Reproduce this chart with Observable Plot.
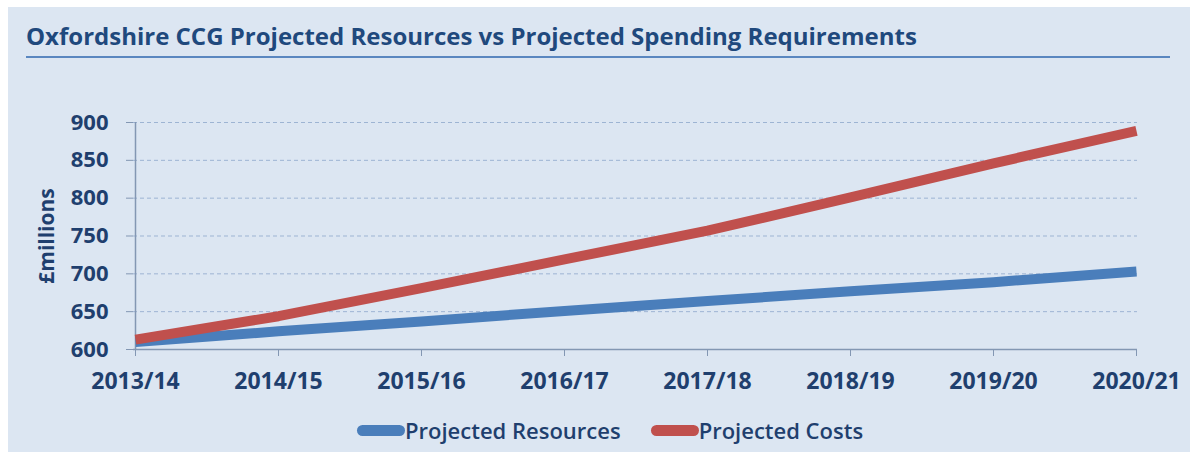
<!DOCTYPE html>
<html>
<head>
<meta charset="utf-8">
<script src="https://cdn.jsdelivr.net/npm/d3@7"></script>
<script src="https://cdn.jsdelivr.net/npm/@observablehq/plot@0.6"></script>
<style>
  html, body { margin: 0; padding: 0; background: #ffffff; }
  #panel {
    position: absolute; left: 8px; top: 7px; width: 1182px; height: 445px;
    background: #dce6f2; font-family: "Open Sans", sans-serif; color: #1f3f6e;
  }
  #title {
    position: absolute; left: 18px; top: 13px; font-size: 24px; font-weight: 700;
    color: #1f497d; white-space: nowrap; line-height: 32px;
  }
  #rule {
    position: absolute; left: 18px; top: 49px; width: 1144px; height: 2px; background: #5a87c0;
  }
  #chart { position: absolute; left: -8px; top: 93px; width: 1198px; }
  #chart svg { max-width: none !important; }
  #chart svg text { font-family: "Open Sans", sans-serif; font-weight: 700; fill: #1f3f6e; }
  #chart svg g[aria-label="x-axis tick label"] text { font-size: 23px; }
  #chart svg g[aria-label="y-axis tick label"] text { font-size: 22px; }
  #chart svg g[aria-label="text"] text { font-size: 21px; }
  #legend {
    position: absolute; left: 349px; top: 408px; display: flex; align-items: center;
    font-size: 22px; font-weight: 600; color: #1f3f6e; white-space: nowrap; line-height: 30px;
  }
  .sw { display: inline-block; width: 48px; height: 11px; border-radius: 6px; }
  .item { display: flex; align-items: center; margin-right: 30px; }
</style>
</head>
<body>
<div id="panel">
  <div id="title">Oxfordshire CCG Projected Resources vs Projected Spending Requirements</div>
  <div id="rule"></div>
  <div id="chart"></div>
  <div id="legend"></div>
</div>
<script>
const years = ["2013/14", "2014/15", "2015/16", "2016/17", "2017/18", "2018/19", "2019/20", "2020/21"];
const resources = [610, 624, 637, 651, 664, 677, 689, 703];
const costs = [613, 644, 681, 719, 757, 801, 846, 889];
const yTicks = [600, 650, 700, 750, 800, 850, 900];
const gridTicks = [650, 700, 750, 800, 850, 900];
const seriesNames = ["Projected Resources", "Projected Costs"];
const seriesColors = ["#4a7ebb", "#c0504d"];

const rows = [];
years.forEach((y, i) => {
  rows.push({year: y, value: resources[i], series: seriesNames[0]});
  rows.push({year: y, value: costs[i], series: seriesNames[1]});
});

const chart = Plot.plot({
  width: 1198,
  height: 293,
  marginLeft: 133,
  marginRight: 61,
  marginTop: 22,
  marginBottom: 44,
  style: {background: "transparent", overflow: "visible"},
  x: {type: "point", domain: years, padding: 0},
  y: {domain: [600, 900]},
  color: {domain: seriesNames, range: seriesColors},
  marks: [
    Plot.ruleY(gridTicks, {stroke: "#9db4d3", strokeWidth: 1, strokeDasharray: "4,3"}),
    Plot.ruleX([years[0]], {stroke: "#8397b3", strokeWidth: 1.5}),
    Plot.ruleY([600], {stroke: "#8397b3", strokeWidth: 1.5}),
    Plot.axisY({ticks: yTicks, tickSize: 7, tickPadding: 18, stroke: "#8397b3", label: null}),
    Plot.axisX({tickSize: 7, tickPadding: 16, stroke: "#8397b3", label: null}),
    Plot.text(["£millions"], {frameAnchor: "left", textAnchor: "middle", rotate: -90, dx: -86}),
    Plot.line(rows, {x: "year", y: "value", z: "series", stroke: "series", strokeWidth: 10, strokeLinecap: "butt", strokeLinejoin: "round"})
  ]
});
document.getElementById("chart").appendChild(chart);

const legend = document.getElementById("legend");
seriesNames.forEach((n, i) => {
  const item = document.createElement("div");
  item.className = "item";
  const sw = document.createElement("span");
  sw.className = "sw";
  sw.style.background = seriesColors[i];
  const t = document.createElement("span");
  t.textContent = n;
  item.appendChild(sw);
  item.appendChild(t);
  legend.appendChild(item);
});
</script>
</body>
</html>
